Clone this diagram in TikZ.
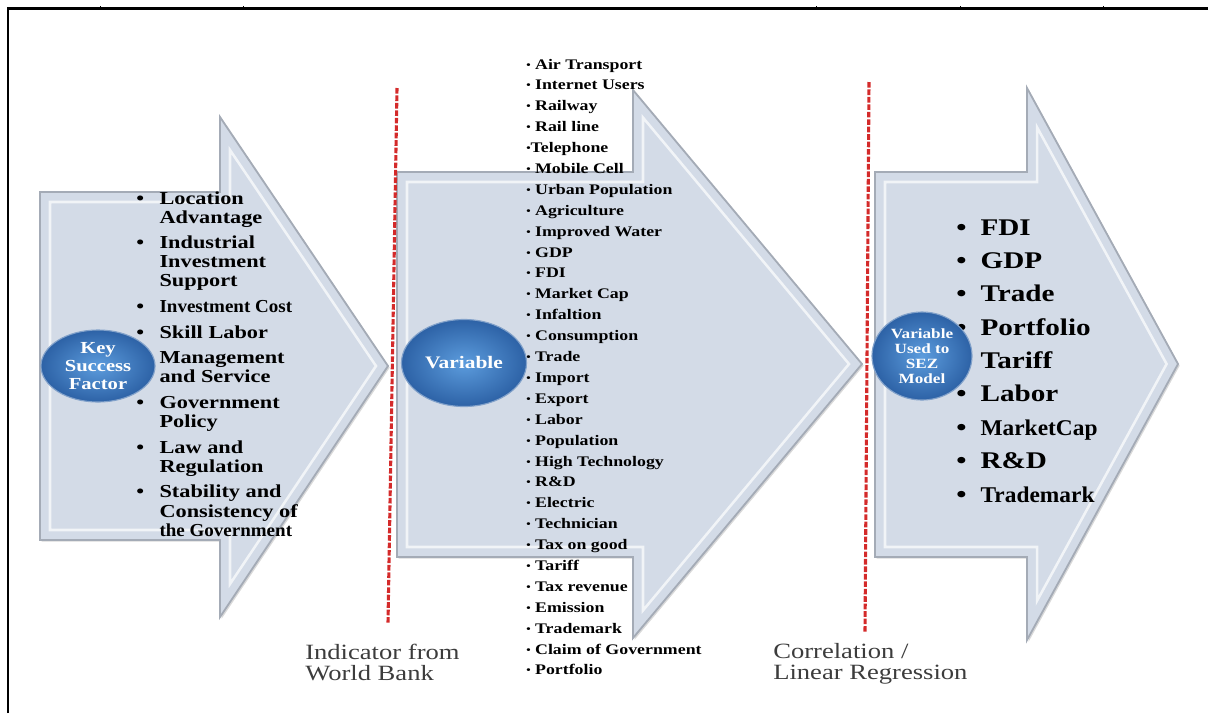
\documentclass[tikz,border=0pt]{standalone}
\usepackage{fontspec}
\setmainfont{Liberation Serif}[FakeStretch=1.22]
\newfontfamily\tightfont{Liberation Serif}[FakeStretch=1.04]
\usepackage{graphicx}
\usetikzlibrary{positioning}
\usetikzlibrary{shapes.geometric}
\usetikzlibrary{shadows}

\definecolor{chevfill}{HTML}{D3DBE7}
\definecolor{chevedge}{HTML}{A4ABB6}
\definecolor{dashred}{HTML}{D42A2A}
\definecolor{capgray}{HTML}{3C3C3C}
\definecolor{ballin}{HTML}{5C9CDD}
\definecolor{ballout}{HTML}{2D62A6}

\newcommand{\smalldot}{\raisebox{0.15ex}{\scalebox{0.7}{\textbullet}}}

\tikzset{
  chevron/.style={fill=chevfill, draw=chevedge, line width=1.3pt, line join=miter,
    drop shadow={opacity=0.3, shadow xshift=1.2pt, shadow yshift=-1.2pt}},
  bevel/.style={draw=white, line width=1.8pt, opacity=0.7, line join=miter},
  keyball/.style={ellipse, inner sep=-2pt, inner color=ballin, outer color=ballout,
    draw=ballout!60!white, line width=0.8pt, text=white, align=center},
  divider/.style={dashred, line width=2.2pt, dash pattern=on 4pt off 1.3pt},
  biglist/.style={anchor=base west, inner sep=0pt, text=black},
  steplabel/.style={anchor=base west, inner sep=0pt, text=capgray,
    font=\fontsize{15.5}{15.6}\selectfont},
}

\begin{document}
\begin{tikzpicture}[x=0.025cm,y=-0.025cm]
 \useasboundingbox (0,0) rectangle (1208,713);
 % frame
 \draw[line width=2.1pt] (8,713) -- (8,8.5) -- (1208,8.5);
 \foreach \t in {100,243,816,960,1103} \draw[line width=0.5pt] (\t,6) -- (\t,8.5);

 % three chevrons
 \draw[chevron] (40,192) -- (220,192) -- (220,117) -- (388,366) -- (220,617) -- (220,540) -- (40,540) -- cycle;
 \draw[bevel] (50,202) -- (230,202) -- (230,150) -- (376,366) -- (230,584) -- (230,530) -- (50,530) -- cycle;
 \draw[chevron] (397,172) -- (633,172) -- (633,90) -- (862,364) -- (633,638) -- (633,557) -- (397,557) -- cycle;
 \draw[bevel] (407,182) -- (643,182) -- (643,117.6) -- (849,364) -- (643,610.4) -- (643,547) -- (407,547) -- cycle;
 \draw[chevron] (875,172) -- (1027,172) -- (1027,88) -- (1178,364) -- (1027,640) -- (1027,557) -- (875,557) -- cycle;
 \draw[bevel] (885,182) -- (1037,182) -- (1037,127.2) -- (1166.6,364) -- (1037,600.8) -- (1037,547) -- (885,547) -- cycle;

 % dividers
 \draw[divider] (397,88) -- (388,623);
 \draw[divider] (869,82) -- (865,632);

 % lists
 \node[biglist, font=\bfseries\fontsize{13}{13.6}\selectfont] (factors) at (136,204)
  {\begin{tabular}[t]{@{}l@{\hspace{11pt}}l@{}}
   \textbullet & Location\\
               & Advantage\\[4.6pt]
   \textbullet & Industrial\\
               & Investment\\
               & Support\\[4.6pt]
   \textbullet & {\tightfont Investment Cost}\\[4.6pt]
   \textbullet & Skill Labor\\[4.6pt]
   \textbullet & Management\\
               & and Service\\[4.6pt]
   \textbullet & Government\\
               & Policy\\[4.6pt]
   \textbullet & Law and\\
               & Regulation\\[4.6pt]
   \textbullet & Stability and\\
               & Consistency of\\
               & {\tightfont the Government}
  \end{tabular}};
 \node[biglist, font=\bfseries\fontsize{10.4}{14.86}\selectfont] (indicators) at (526,69)
  {\begin{tabular}[t]{@{}l@{}}
   \smalldot\ Air Transport\\ \smalldot\ Internet Users\\ \smalldot\ Railway\\
   \smalldot\ Rail line\\ \smalldot Telephone\\ \smalldot\ Mobile Cell\\
   \smalldot\ Urban Population\\ \smalldot\ Agriculture\\ \smalldot\ Improved Water\\
   \smalldot\ GDP\\ \smalldot\ FDI\\ \smalldot\ Market Cap\\
   \smalldot\ Infaltion\\ \smalldot\ Consumption\\ \smalldot\ Trade\\
   \smalldot\ Import\\ \smalldot\ Export\\ \smalldot\ Labor\\
   \smalldot\ Population\\ \smalldot\ High Technology\\ \smalldot\ R\&D\\
   \smalldot\ Electric\\ \smalldot\ Technician\\ \smalldot\ Tax on good\\
   \smalldot\ Tariff\\ \smalldot\ Tax revenue\\ \smalldot\ Emission\\
   \smalldot\ Trademark\\ \smalldot\ Claim of Government\\ \smalldot\ Portfolio
  \end{tabular}};
 \node[biglist, font=\bfseries\fontsize{17}{23.75}\selectfont] (sezvars) at (956,235)
  {\begin{tabular}[t]{@{}l@{\hspace{10pt}}l@{}}
   \textbullet & FDI\\
   \textbullet & GDP\\
   \textbullet & Trade\\
   \textbullet & Portfolio\\
   \textbullet & Tariff\\
   \textbullet & Labor\\
   \textbullet & {\tightfont\fontsize{16}{23.75}\selectfont MarketCap}\\
   \textbullet & R\&D\\
   \textbullet & {\tightfont\fontsize{16}{23.75}\selectfont Trademark}
  \end{tabular}};

 % step captions
 \node[steplabel] (worldbank) at (305,659)
  {\begin{tabular}[t]{@{}l@{}}Indicator from\\World Bank\end{tabular}};
 \node[steplabel] (regression) at (773,658)
  {\begin{tabular}[t]{@{}l@{}}Correlation /\\Linear Regression\end{tabular}};

 % blue ovals
 \node[keyball, minimum width=2.85cm, minimum height=1.8cm,
   font=\bfseries\fontsize{12}{12.8}\selectfont] (ksf) at (98,366) {Key\\Success\\Factor};
 \node[keyball, minimum width=3.125cm, minimum height=2.175cm,
   font=\bfseries\fontsize{12.5}{13}\selectfont] (variable) at (464,363) {Variable};
 \node[keyball, minimum width=2.5cm, minimum height=2.2cm,
   font=\bfseries\fontsize{10}{10.6}\selectfont] (sezmodel) at (922,356) {Variable\\Used to\\SEZ\\Model};
\end{tikzpicture}
\end{document}
